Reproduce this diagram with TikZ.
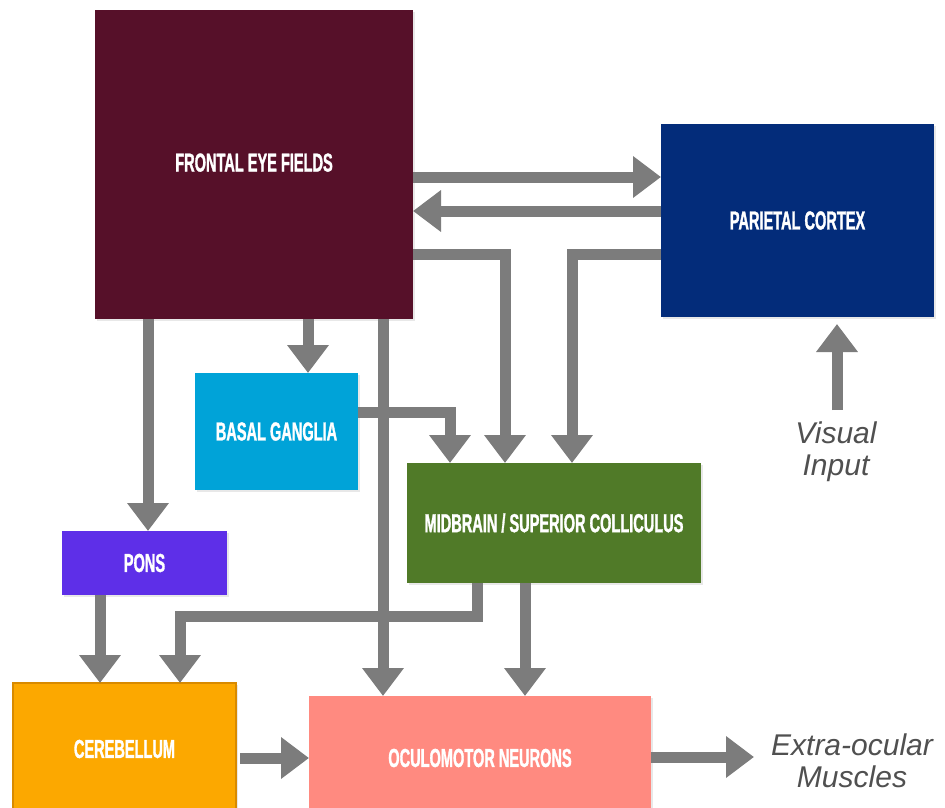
\documentclass[tikz,border=0pt]{standalone}
\usepackage{fontspec}
\setmainfont{Liberation Sans}
\newfontfamily\boxfont[FakeStretch=0.56,FakeBold=1.2]{Liberation Sans}
\usetikzlibrary{arrows.meta,shadows}
\definecolor{fefc}{HTML}{561029}
\definecolor{pcc}{HTML}{032C7A}
\definecolor{bgc}{HTML}{00A3D8}
\definecolor{mbc}{HTML}{507A28}
\definecolor{ponsc}{HTML}{5E2FE8}
\definecolor{cerc}{HTML}{FCA800}
\definecolor{cerb}{HTML}{D88A00}
\definecolor{onc}{HTML}{FF8A80}
\definecolor{arrowgray}{HTML}{7C7C7C}
\definecolor{lblgray}{HTML}{505050}
\begin{document}
\begin{tikzpicture}[x=1pt,y=-1pt,
  box/.style={anchor=north west, inner sep=0pt, outer sep=0pt,
    font=\boxfont\bfseries\fontsize{26}{26}\selectfont, text=white, align=center,
    drop shadow={shadow xshift=2pt, shadow yshift=-2pt, opacity=0.18}},
  arr/.style={draw=arrowgray, line width=11pt, line join=miter,
    -{Triangle[width=40pt,length=28pt]}},
  lbl/.style={font=\itshape\fontsize{30}{32}\selectfont, text=lblgray, align=center}]
\clip (0,0) rectangle (945,807);
\fill[white] (0,0) rectangle (945,807);
% boxes
\node[box, fill=fefc, minimum width=318pt, minimum height=309pt] (FEF) at (95,10) {\raisebox{4pt}{FRONTAL EYE FIELDS}};
\node[box, fill=pcc, minimum width=273pt, minimum height=193pt] (PC) at (661,124) {PARIETAL CORTEX};
\node[box, fill=bgc, minimum width=163pt, minimum height=117pt] (BG) at (195,373) {BASAL GANGLIA};
\node[box, fill=mbc, minimum width=294pt, minimum height=120pt] (MB) at (407,463) {MIDBRAIN / SUPERIOR COLLICULUS};
\node[box, fill=ponsc, minimum width=165pt, minimum height=64pt] (Pons) at (62,531) {PONS};
\node[box, fill=cerc, draw=cerb, line width=2.5pt, minimum width=223pt, minimum height=132pt] (Cer) at (13,683) {CEREBELLUM};
\node[box, fill=onc, minimum width=342pt, minimum height=124pt] (ON) at (309,696) {OCULOMOTOR NEURONS};
% labels
\node[lbl] (VI) at (836,452) {Visual\\Input};
\node[lbl] (EM) at (852,761) {Extra-ocular\\Muscles};
\coordinate (vistail) at (837,410);
% connectors
\draw[arr] (FEF.east |- 0,177) -- (PC.west |- 0,177);
\draw[arr] (PC.west |- 0,211) -- (FEF.east |- 0,211);
\draw[arr] (FEF.east |- 0,254) -| (505,0 |- MB.north);
\draw[arr] (PC.west |- 0,254) -| (572,0 |- MB.north);
\draw[arr] (308,0 |- FEF.south) -- (308,0 |- BG.north);
\draw[arr] (148,0 |- FEF.south) -- (148,0 |- Pons.north);
\draw[arr] (383,0 |- FEF.south) -- (383,0 |- ON.north);
\draw[arr] (BG.east |- 0,412) -| (450,0 |- MB.north);
\draw[arr] (100,0 |- Pons.south) -- (100,0 |- Cer.north);
\draw[arr] (477,0 |- MB.south) |- (180,616) -- (180,0 |- Cer.north);
\draw[arr] (525,0 |- MB.south) -- (525,0 |- ON.north);
\draw[arr] ([xshift=4pt]Cer.east |- 0,758) -- (ON.west |- 0,758);
\draw[arr] (ON.east |- 0,757) -- (754,757);
\draw[arr] (vistail) -- ([yshift=-7pt]837,0 |- PC.south);
\end{tikzpicture}
\end{document}
